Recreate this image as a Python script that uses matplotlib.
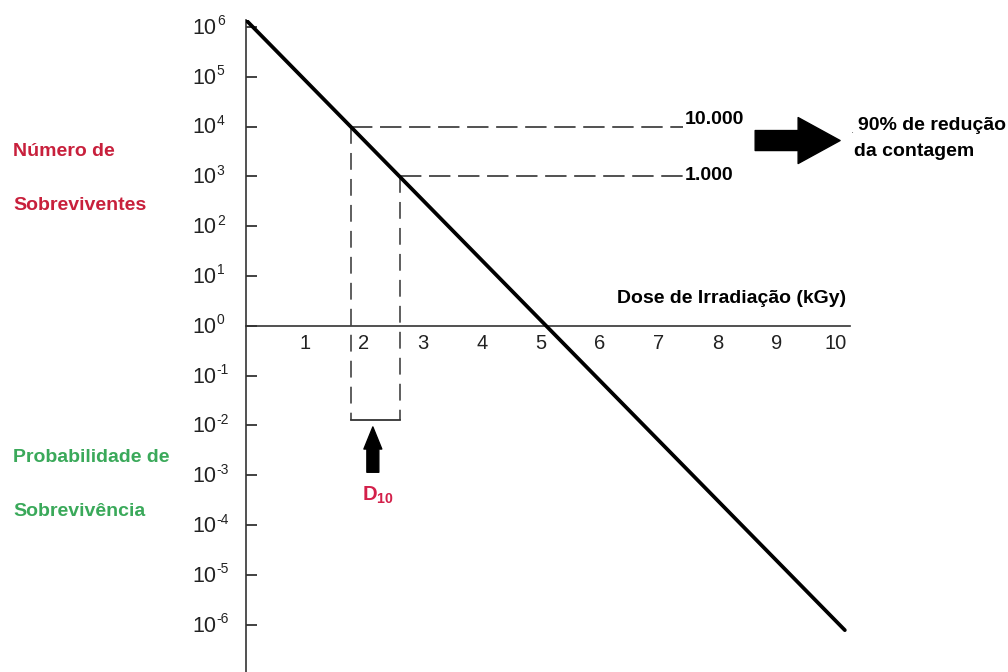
import matplotlib
matplotlib.use("Agg")
import matplotlib.pyplot as plt
import numpy as np

plt.rcParams['font.family'] = ['Liberation Sans', 'DejaVu Sans']
plt.rcParams['mathtext.default'] = 'regular'

# Data
line_dose = [0.0, 10.15]          # kGy, start and end of the survival line
line_log_survivors = [6.14, -6.11]  # log10 of survivors at those doses
tick_doses = [1, 2, 3, 4, 5, 6, 7, 8, 9, 10]
tick_exponents = [6, 5, 4, 3, 2, 1, 0, -1, -2, -3, -4, -5, -6]
reference_counts = [10000, 1000]
reference_labels = ['10.000', '1.000']
bracket_level = 10 ** -1.9

fig = plt.figure(figsize=(10.08, 6.72), dpi=100)
ax = fig.add_axes([246 / 1008, 0, (850 - 246) / 1008, 1 - 20 / 672])
ax.set_yscale('log')
ax.set_xlim(0, (850 - 246) / 59)
ax.set_ylim(10 ** -6.95, 10 ** 6.14)

# Survival line
survivors = 10.0 ** np.array(line_log_survivors)
ax.plot(line_dose, survivors, color='black', lw=2.7, solid_capstyle='round', zorder=5)

# Doses where the line crosses the two reference counts
count_logs = np.log10(reference_counts)
cross_dose = np.interp(-count_logs, -np.array(line_log_survivors), line_dose)

h_end = 7.41
for d, c, lab in zip(cross_dose, reference_counts, reference_labels):
    ax.plot([d, h_end], [c, c], color='#222222', lw=1.1, ls=(0, (14, 5)))
    ax.plot([d, d], [c, bracket_level], color='#333333', lw=1.1, ls=(0, (11, 6)))
    off = 5 if c == 10000 else 1
    ax.annotate(lab, xy=(h_end + 0.03, c), xytext=(0, off), textcoords='offset points',
                ha='left', va='center', fontsize=14, fontweight='bold')

# Bracket under the D10 interval
ax.plot([cross_dose[0], cross_dose[1]], [bracket_level, bracket_level], color='#333333', lw=1.3)

# Up arrow pointing at D10
ax.annotate('', xy=(2.15, 10 ** -2.03), xytext=(2.15, 10 ** -2.94),
            arrowprops=dict(arrowstyle='simple,head_width=1.5,head_length=1.85,tail_width=1.0',
                            mutation_scale=8.6, color='black', shrinkA=0, shrinkB=0))
ax.text(2.24, 10 ** -3.4, r'D$_{10}$', color='#d3204a', fontsize=14.5, fontweight='bold',
        ha='center', va='center')

# Right arrow and note
ax.annotate('', xy=(10.07, 10 ** 3.72), xytext=(8.63, 10 ** 3.72),
            arrowprops=dict(arrowstyle='simple,head_width=2.3,head_length=2.1,tail_width=1.0',
                            mutation_scale=14.4, color='black', shrinkA=0, shrinkB=0),
            annotation_clip=False)
fig.text(858 / 1008, 1 - 125 / 672, '90% de redução', fontsize=14, fontweight='bold',
         ha='left', va='center')
fig.text(851 / 1008, 1 - 130 / 672, '.', fontsize=8, ha='left', va='center', color='#666666')
fig.text(854 / 1008, 1 - 151 / 672, 'da contagem', fontsize=14, fontweight='bold',
         ha='left', va='center')

# Axis title
ax.text(10.18, 10 ** 0.556, 'Dose de Irradiação (kGy)', fontsize=14, fontweight='bold',
        ha='right', va='center')

# Side labels
fig.text(13 / 1008, 1 - 152 / 672, 'Número de', color='#c8203c', fontsize=14,
         fontweight='bold', va='center')
fig.text(13 / 1008, 1 - 205 / 672, 'Sobreviventes', color='#c8203c', fontsize=14,
         fontweight='bold', va='center')
fig.text(13 / 1008, 1 - 457 / 672, 'Probabilidade de', color='#3aa95a', fontsize=14,
         fontweight='bold', va='center')
fig.text(13 / 1008, 1 - 512 / 672, 'Sobrevivência', color='#3aa95a', fontsize=14,
         fontweight='bold', va='center')

# Axes styling
for side in ['top', 'right']:
    ax.spines[side].set_visible(False)
ax.spines['bottom'].set_position(('data', 1))
ax.spines['left'].set_color('#333333')
ax.spines['bottom'].set_color('#333333')
ax.spines['left'].set_linewidth(1.2)
ax.spines['bottom'].set_linewidth(1.2)

ax.set_xticks(tick_doses)
ax.set_xticklabels([str(t) for t in tick_doses])
ax.tick_params(axis='x', length=0, pad=6, labelsize=14.5, colors='#222222')

# y ticks with hand-made "10" + raised exponent labels (hyphen minus as in the original)
ax.set_yticks([10.0 ** e for e in tick_exponents])
ax.set_yticklabels([])
ax.yaxis.set_minor_locator(matplotlib.ticker.NullLocator())
ax.tick_params(axis='y', direction='in', length=8, width=1.2, colors='#222222')
for e in tick_exponents:
    ax.annotate('10', xy=(0, 10.0 ** e), xycoords=('axes fraction', 'data'),
                xytext=(-21, -1), textcoords='offset points', ha='right', va='center',
                fontsize=15.5, color='#222222')
    ax.annotate(str(e), xy=(0, 10.0 ** e), xycoords=('axes fraction', 'data'),
                xytext=(-21, 4), textcoords='offset points', ha='left', va='center',
                fontsize=10, color='#222222')

fig.savefig('out.png', dpi=100)
